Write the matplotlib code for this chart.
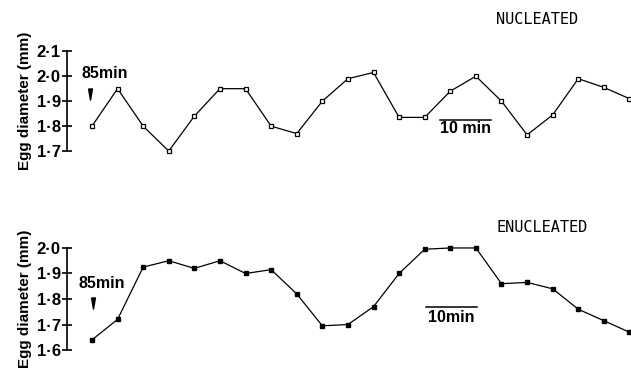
import matplotlib
matplotlib.use("Agg")
import matplotlib.pyplot as plt
from matplotlib.ticker import FuncFormatter

# time of each reading (min), one every 5 min starting at 85 min
times = [85 + 5 * i for i in range(22)]

nucleated = [1.80, 1.95, 1.80, 1.70, 1.84, 1.95, 1.95, 1.80, 1.77, 1.90, 1.99,
             2.015, 1.835, 1.835, 1.94, 2.00, 1.90, 1.765, 1.845, 1.99, 1.955, 1.91]
enucleated = [1.64, 1.72, 1.925, 1.95, 1.92, 1.95, 1.90, 1.915, 1.82, 1.695, 1.70,
              1.77, 1.90, 1.995, 2.00, 2.00, 1.86, 1.865, 1.84, 1.76, 1.715, 1.67]

top_ticks = [1.7, 1.8, 1.9, 2.0, 2.1]
bot_ticks = [1.6, 1.7, 1.8, 1.9, 2.0]

SANS = "Liberation Sans"
MONO = "DejaVu Sans Mono"

# narrow downward arrow head used under "85min"
ARROW = [(-0.35, 1), (0.35, 1), (0, -1), (-0.35, 1)]


def dot_fmt(v, pos):
    return "{:.1f}".format(v).replace(".", "\u00b7")


def style_axis(ax, ticks):
    for s in ["top", "right", "bottom"]:
        ax.spines[s].set_visible(False)
    ax.spines["left"].set_linewidth(1.2)
    ax.set_xticks([])
    ax.set_yticks(ticks)
    ax.set_ylim(ticks[0], ticks[-1])
    ax.set_xlim(80.1, 190.3)
    ax.yaxis.set_major_formatter(FuncFormatter(dot_fmt))
    ax.tick_params(axis="y", direction="inout", length=7, width=1.2, pad=1,
                   labelsize=12)
    for lab in ax.get_yticklabels():
        lab.set_fontfamily(SANS)
        lab.set_fontweight("bold")
    ax.set_ylabel("Egg diameter (mm)", fontfamily=SANS, fontweight="bold",
                  fontsize=11, labelpad=3)
    ax.patch.set_alpha(0)


fig = plt.figure(figsize=(6.31, 3.74), dpi=100)
ax1 = fig.add_axes([0.106, 0.596, 0.894, 0.267])
ax2 = fig.add_axes([0.106, 0.064, 0.894, 0.273])

ax1.plot(times, nucleated, color="black", lw=0.9, marker="s", ms=3.3,
         mfc="white", mec="black", mew=0.9, clip_on=False)
ax2.plot(times, enucleated, color="black", lw=0.9, marker="s", ms=3.0,
         mfc="black", mec="black", clip_on=False)

style_axis(ax1, top_ticks)
style_axis(ax2, bot_ticks)

# start-time annotation
ax1.text(87.4, 2.01, "85min", fontfamily=SANS, fontweight="bold", fontsize=11.5,
         ha="center", va="center")
ax1.plot([84.6], [1.93], marker=ARROW, ms=8, color="black", lw=0, clip_on=False)
ax2.text(87.0, 1.862, "85min", fontfamily=SANS, fontweight="bold", fontsize=11.5,
         ha="center", va="center")
ax2.plot([85.2], [1.785], marker=ARROW, ms=8, color="black", lw=0, clip_on=False)

# 10 min scale bars
ax1.plot([153, 163], [1.824, 1.824], color="black", lw=1.1)
ax1.text(158, 1.79, "10 min", fontfamily=SANS, fontweight="bold", fontsize=11.5,
         ha="center", va="center")
ax2.plot([150.2, 160.2], [1.769, 1.769], color="black", lw=1.1)
ax2.text(155.2, 1.727, "10min", fontfamily=SANS, fontweight="bold", fontsize=11.5,
         ha="center", va="center")

fig.text(537 / 631, 1 - 20 / 374, "NUCLEATED", fontfamily=MONO, fontsize=11,
         ha="center", va="center")
fig.text(542 / 631, 1 - 228 / 374, "ENUCLEATED", fontfamily=MONO, fontsize=11,
         ha="center", va="center")

fig.savefig("out.png", dpi=100)
